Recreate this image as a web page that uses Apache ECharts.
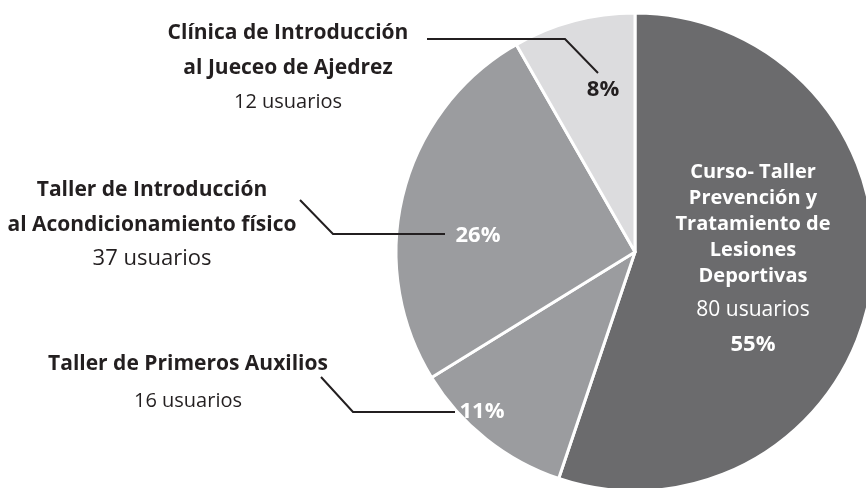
<!DOCTYPE html>
<html lang="es">
<head>
    <meta charset="UTF-8">
    <title>Usuarios por curso</title>
    <style>
        html, body { margin: 0; padding: 0; background: #fff; }
    </style>
</head>
<body>
    <div id="pieChart" style="width: 866px;height: 488px;"></div>
<script src="https://cdn.jsdelivr.net/npm/echarts@6/dist/echarts.min.js"></script>
<script>
    // datos del grafico
    var cursos = [
        'Curso- Taller\nPrevención y\nTratamiento de\nLesiones\nDeportivas',
        'Taller de Primeros Auxilios',
        'Taller de Introducción\nal Acondicionamiento físico',
        'Clínica de Introducción\nal Jueceo de Ajedrez'
    ];
    var usuarios = [80, 16, 37, 12];
    var colores = ['#6b6b6d', '#9b9c9f', '#9b9c9f', '#dcdcde'];

    var FONT = 'Open Sans';
    var TEXTO = '#231f20';

    // posiciones de las etiquetas (px)
    var pctPos = [[753, 259], [482, 412], [478, 236], [603, 90]];
    var extPos = [null, [188, 384], [152, 224], [288, 67]];
    var extLines = [
        null,
        [[321, 377], [353, 412], [455, 412]],
        [[300, 200], [333, 234], [445, 234]],
        [[427, 39], [565, 39], [598, 73]]
    ];
    var usuFont = [21, 20, 22, 20];

    var pieData = cursos.map(function (c, i) {
        return { name: c, value: usuarios[i], itemStyle: { color: colores[i] } };
    });

    var extData = cursos.map(function (c, i) {
        var d = { name: c, value: usuarios[i] };
        if (i === 0) {
            d.label = { show: false };
            d.labelLine = { show: false };
        }
        return d;
    });

    var mapChart = echarts.init(document.getElementById('pieChart'));
    var option = {
        backgroundColor: '#fff',
        animation: false,
        series: [
            {
                type: 'pie',
                center: [635, 252],
                radius: [0, 239],
                startAngle: 90,
                clockwise: true,
                avoidLabelOverlap: false,
                itemStyle: { borderColor: '#fff', borderWidth: 3 },
                label: {
                    show: true,
                    position: 'inside',
                    fontFamily: FONT,
                    formatter: function (p) {
                        var pct = Math.round(p.percent) + '%';
                        if (p.dataIndex === 0) {
                            return '{t|' + p.name.split('\n').join('}\n{t|') + '}\n{u|' + p.value + ' usuarios}\n{p|' + pct + '}';
                        }
                        return '{q|' + pct + '}';
                    },
                    rich: {
                        t: { fontFamily: FONT, fontWeight: 'bold', fontSize: 20, lineHeight: 26, color: '#fff', align: 'center' },
                        u: { fontFamily: FONT, fontSize: 21, lineHeight: 42, color: '#fff', align: 'center' },
                        p: { fontFamily: FONT, fontWeight: 'bold', fontSize: 22, lineHeight: 28, color: '#fff', align: 'center' },
                        q: { fontFamily: FONT, fontWeight: 'bold', fontSize: 22, color: '#fff' }
                    }
                },
                labelLayout: function (params) {
                    var pos = pctPos[params.dataIndex];
                    return { x: pos[0], y: pos[1], align: 'center', verticalAlign: 'middle' };
                },
                data: pieData.map(function (d, i) {
                    if (i === 3) {
                        d.label = { rich: { q: { color: TEXTO, fontFamily: FONT, fontWeight: 'bold', fontSize: 22 } } };
                    }
                    return d;
                })
            },
            {
                // etiquetas externas con lineas guia
                type: 'pie',
                center: [635, 252],
                radius: [0, 239],
                startAngle: 90,
                silent: true,
                z: 3,
                avoidLabelOverlap: false,
                itemStyle: { color: 'transparent', borderWidth: 0 },
                label: {
                    show: true,
                    position: 'outside',
                    formatter: function (p) {
                        var n = p.name.split('\n');
                        var s = n.map(function (x) { return '{b|' + x + '}'; }).join('\n');
                        return s + '\n{u' + p.dataIndex + '|' + p.value + ' usuarios}';
                    },
                    rich: {
                        b: { fontFamily: FONT, fontWeight: 'bold', fontSize: 21, lineHeight: 35, color: TEXTO, align: 'center' },
                        u1: { fontFamily: FONT, fontSize: usuFont[1], lineHeight: 39, color: TEXTO, align: 'center' },
                        u2: { fontFamily: FONT, fontSize: usuFont[2], lineHeight: 33, color: TEXTO, align: 'center' },
                        u3: { fontFamily: FONT, fontSize: usuFont[3], lineHeight: 33, color: TEXTO, align: 'center' }
                    }
                },
                labelLine: {
                    show: true,
                    lineStyle: { color: TEXTO, width: 2 }
                },
                labelLayout: function (params) {
                    var i = params.dataIndex;
                    if (!extPos[i]) return {};
                    return {
                        x: extPos[i][0], y: extPos[i][1],
                        align: 'center', verticalAlign: 'middle',
                        labelLinePoints: extLines[i]
                    };
                },
                data: extData
            }
        ]
    };
    mapChart.setOption(option);
</script>
</body>
</html>
